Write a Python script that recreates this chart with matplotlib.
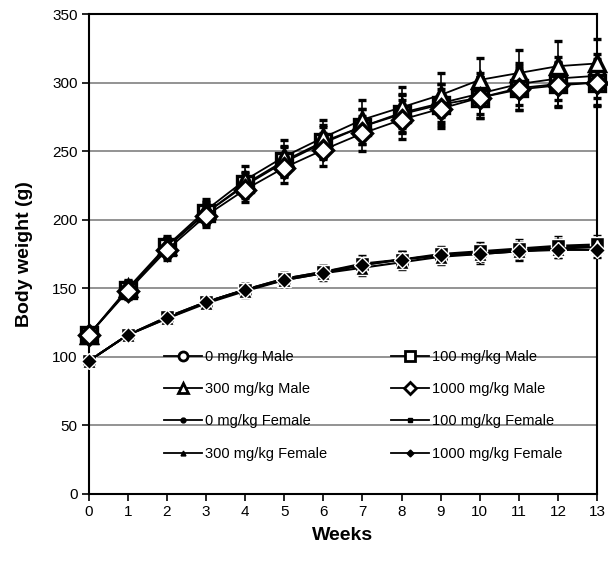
# Body weight curves, male and female, 4 dose groups, mean +/- SD
import numpy as np
import matplotlib.pyplot as plt
from matplotlib.lines import Line2D

plt.rcParams['font.family'] = ['Liberation Sans', 'DejaVu Sans']

weeks = np.arange(0, 14)

# --- males (g) ---
male_0 = [116, 149, 180, 205, 225, 242, 256, 268, 278, 285, 292, 299, 303, 305]
male_100 = [116, 149, 180, 205, 226, 243, 257, 268, 277, 284, 289, 296, 299, 300]
male_300 = [116, 150, 181, 207, 229, 246, 260, 273, 282, 291, 302, 307, 312, 314]
male_1000 = [116, 148, 178, 203, 222, 238, 251, 263, 273, 281, 289, 295, 298, 300]
male_0_sd = [3, 6, 7, 8, 9, 11, 12, 13, 14, 14, 15, 15, 16, 16]
male_100_sd = [3, 6, 7, 8, 9, 11, 12, 13, 14, 15, 15, 16, 16, 17]
male_300_sd = [3, 6, 7, 8, 10, 12, 13, 14, 15, 16, 16, 17, 18, 18]
male_1000_sd = [3, 6, 7, 8, 9, 11, 12, 13, 14, 14, 15, 15, 16, 16]

# --- females (g) ---
female_0 = [97, 116, 129, 140, 149, 157, 162, 167, 171, 174, 176, 178, 180, 181]
female_100 = [97, 116, 129, 140, 149, 157, 162, 168, 171, 175, 177, 179, 181, 182]
female_300 = [97, 116, 128, 139, 148, 156, 161, 165, 169, 173, 175, 177, 179, 180]
female_1000 = [97, 116, 128, 140, 149, 156, 161, 167, 171, 174, 175, 177, 178, 178]
female_0_sd = [3, 4, 4, 4, 5, 5, 5, 6, 6, 6, 6, 6, 6, 6]
female_100_sd = [3, 4, 4, 4, 5, 5, 5, 6, 6, 6, 7, 7, 7, 7]
female_300_sd = [3, 4, 4, 4, 5, 5, 6, 6, 6, 6, 7, 7, 7, 7]
female_1000_sd = [3, 4, 4, 4, 5, 5, 5, 6, 6, 6, 6, 6, 6, 6]

male_labels = ['0 mg/kg Male', '100 mg/kg Male', '300 mg/kg Male', '1000 mg/kg Male']
female_labels = ['0 mg/kg Female', '100 mg/kg Female', '300 mg/kg Female', '1000 mg/kg Female']
markers = ['o', 's', '^', 'D']

fig = plt.figure(figsize=(6.08, 5.63), dpi=100)
ax = fig.add_axes([0.146, 0.1226, 0.836, 0.8524])

males = [(male_0, male_0_sd), (male_100, male_100_sd),
         (male_300, male_300_sd), (male_1000, male_1000_sd)]
females = [(female_0, female_0_sd), (female_100, female_100_sd),
           (female_300, female_300_sd), (female_1000, female_1000_sd)]

msize = {'o': 11, 's': 12, '^': 12, 'D': 10}
for (m, sd), mk in zip(females, markers):
    ax.errorbar(weeks, m, yerr=sd, color='black', lw=1.5, elinewidth=1.2,
                capsize=3, capthick=1.2, marker=mk, ms=msize[mk] - 1.5,
                mfc='black', mec='white', mew=1.0, zorder=3, clip_on=False)
for (m, sd), mk in zip(males, markers):
    ax.errorbar(weeks, m, yerr=sd, color='black', lw=1.3, elinewidth=1.2,
                capsize=3, capthick=1.2, marker=mk, ms=msize[mk],
                mfc='white', mec='black', mew=2.4, zorder=4, clip_on=False)

ax.set_xlim(0, 13)
ax.set_ylim(0, 350)
ax.set_xticks(weeks)
ax.set_yticks(np.arange(0, 351, 50))
ax.yaxis.grid(True, color='#808080', lw=1.2)
ax.set_axisbelow(True)
ax.tick_params(direction='out', length=5, width=1.2, labelsize=11, pad=3)
for s in ax.spines.values():
    s.set_linewidth(1.5)
ax.set_xlabel('Weeks', fontsize=14, fontweight='bold', labelpad=6)
ax.set_ylabel('Body weight (g)', fontsize=14, fontweight='bold', labelpad=14)

# legend proxies: open markers for males, small filled markers for females
h = {}
for lab, mk in zip(male_labels, markers):
    h[lab] = Line2D([], [], color='black', lw=1.3, marker=mk, ms=6.5,
                    mfc='white', mec='black', mew=2)
for lab, mk in zip(female_labels, markers):
    h[lab] = Line2D([], [], color='black', lw=1.3, marker=mk, ms=3.5,
                    mfc='black', mec='black')
order = [male_labels[0], male_labels[2], female_labels[0], female_labels[2],
         male_labels[1], male_labels[3], female_labels[1], female_labels[3]]
ax.legend([h[k] for k in order], order, ncol=2, loc='upper left',
          bbox_to_anchor=(0.148, 0.30), frameon=False, fontsize=10.5,
          handlelength=2.6, handletextpad=0.2, columnspacing=4.4,
          labelspacing=1.25, borderpad=0, borderaxespad=0)

fig.savefig('out.png', dpi=100)
